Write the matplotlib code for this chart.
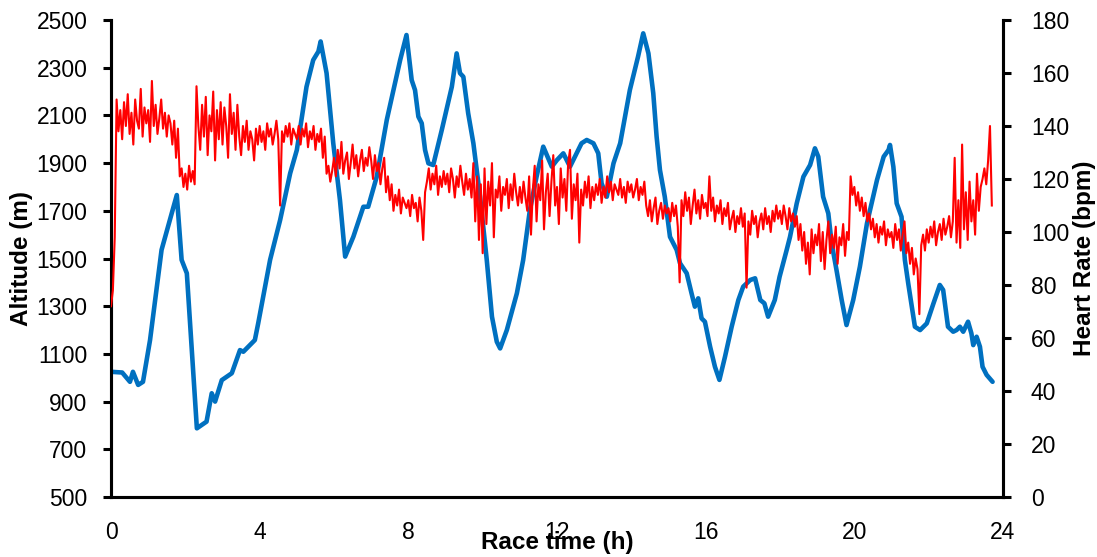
import numpy as np
import matplotlib
matplotlib.use("Agg")
import matplotlib.pyplot as plt

plt.rcParams['font.family'] = ['Liberation Sans', 'DejaVu Sans']

# Altitude profile (h, m)
alt_time = [0.00, 0.30, 0.51, 0.59, 0.73, 0.86, 1.05, 1.36, 1.77, 1.90, 2.04, 2.31, 2.57, 2.71,
            2.80, 2.98, 3.25, 3.47, 3.56, 3.87, 3.96, 4.28, 4.55, 4.82, 5.00, 5.26, 5.44, 5.58,
            5.64, 5.80, 5.98, 6.16, 6.30, 6.52, 6.79, 6.92, 7.15, 7.42, 7.78, 7.95, 8.09, 8.18,
            8.27, 8.36, 8.45, 8.54, 8.67, 8.90, 9.17, 9.30, 9.39, 9.48, 9.61, 9.75, 9.93, 10.11,
            10.25, 10.38, 10.47, 10.65, 10.92, 11.09, 11.27, 11.45, 11.63, 11.86, 12.00, 12.17,
            12.35, 12.57, 12.66, 12.80, 12.98, 13.11, 13.20, 13.34, 13.52, 13.70, 13.96, 14.18,
            14.32, 14.46, 14.59, 14.68, 14.77, 14.90, 15.04, 15.22, 15.31, 15.49, 15.62, 15.71,
            15.80, 15.89, 15.98, 16.12, 16.25, 16.37, 16.52, 16.70, 16.88, 17.01, 17.20, 17.33,
            17.47, 17.58, 17.68, 17.86, 17.99, 18.18, 18.27, 18.45, 18.63, 18.81, 18.94, 19.03,
            19.16, 19.30, 19.39, 19.52, 19.66, 19.79, 19.97, 20.15, 20.34, 20.61, 20.79, 20.92,
            20.96, 21.05, 21.14, 21.27, 21.36, 21.45, 21.63, 21.77, 21.95, 22.13, 22.30, 22.39,
            22.52, 22.66, 22.75, 22.84, 22.93, 23.06, 23.15, 23.20, 23.29, 23.38, 23.45, 23.56,
            23.72]
alt_m = [1025, 1022, 983, 1025, 970, 983, 1158, 1536, 1766, 1494, 1438, 788, 816, 935,
         900, 990, 1019, 1116, 1109, 1158, 1228, 1494, 1661, 1857, 1955, 2220, 2332, 2368,
         2410, 2277, 1983, 1745, 1508, 1591, 1717, 1717, 1843, 2081, 2332, 2437, 2248, 2206,
         2095, 2067, 1955, 1899, 1892, 2039, 2220, 2360, 2277, 2262, 2109, 1983, 1759, 1494,
         1256, 1151, 1123, 1200, 1354, 1494, 1703, 1843, 1969, 1885, 1913, 1941,
         1885, 1955, 1983, 1997, 1983, 1941, 1815, 1759, 1899, 1983, 2206, 2346,
         2444, 2360, 2193, 2011, 1871, 1759, 1591, 1536, 1480, 1438, 1354, 1298,
         1333, 1249, 1235, 1130, 1046, 991, 1088, 1214, 1326, 1382, 1410, 1417,
         1326, 1312, 1256, 1326, 1424, 1536, 1591, 1731, 1843, 1892, 1962, 1927,
         1759, 1689, 1564, 1452, 1326, 1221, 1326, 1466, 1647, 1829, 1927, 1955,
         1976, 1885, 1731, 1675, 1494, 1396, 1214, 1200, 1228, 1312, 1389, 1368,
         1214, 1193, 1200, 1214, 1193, 1235, 1186, 1137, 1172, 1130, 1046, 1012,
         983]

# Heart rate, one reading every 0.05 h (bpm)
hr_step = 0.05
hr_rows = [
    [72, 78, 98, 150, 138, 146, 135, 149, 140, 152, 137, 145, 133, 150, 142, 139, 154, 136, 147, 141],
    [146, 134, 157, 140, 148, 137, 143, 150, 139, 145, 136, 144, 141, 133, 142, 128, 139, 121, 124, 117],
    [122, 116, 125, 119, 123, 118, 155, 140, 131, 148, 136, 151, 129, 144, 138, 153, 127, 146, 135, 149],
    [133, 147, 140, 128, 152, 137, 145, 131, 148, 136, 129, 140, 134, 142, 131, 138, 135, 127, 139, 133],
    [140, 134, 138, 131, 141, 136, 139, 133, 137, 142, 135, 110, 138, 134, 140, 136, 141, 133, 139, 137],
    [135, 140, 133, 139, 136, 141, 132, 138, 135, 140, 131, 137, 134, 139, 128, 136, 122, 125, 119, 123],
    [128, 121, 131, 124, 134, 122, 127, 130, 120, 126, 133, 124, 129, 121, 127, 131, 123, 128, 125, 132],
    [127, 120, 129, 123, 126, 118, 124, 128, 115, 121, 112, 118, 108, 114, 110, 116, 107, 113, 111, 109],
    [112, 106, 114, 109, 111, 104, 113, 108, 97, 115, 119, 124, 116, 122, 118, 125, 114, 121, 117, 123],
    [118, 122, 115, 124, 120, 113, 121, 117, 125, 119, 114, 122, 116, 120, 113, 126, 104, 121, 97, 118],
    [92, 124, 103, 119, 110, 126, 98, 116, 113, 121, 108, 117, 114, 120, 109, 118, 112, 122, 115, 110],
    [117, 111, 119, 113, 108, 121, 99, 116, 125, 104, 118, 112, 127, 101, 115, 122, 106, 119, 129, 110],
    [117, 103, 124, 113, 120, 108, 126, 131, 105, 118, 112, 122, 96, 116, 110, 119, 113, 121, 109, 117],
    [112, 118, 114, 120, 111, 117, 113, 121, 115, 119, 112, 118, 116, 114, 120, 113, 117, 111, 119, 115],
    [118, 113, 116, 120, 112, 117, 114, 119, 110, 106, 112, 104, 109, 113, 103, 108, 111, 105, 110, 107],
    [109, 104, 111, 106, 110, 102, 81, 112, 106, 115, 108, 113, 103, 110, 116, 107, 112, 105, 114, 109],
    [111, 106, 121, 108, 113, 104, 110, 107, 112, 103, 109, 106, 111, 101, 105, 108, 100, 106, 103, 109],
    [102, 107, 79, 104, 99, 108, 103, 106, 98, 104, 107, 101, 109, 103, 106, 100, 108, 104, 110, 105],
    [108, 103, 110, 106, 101, 109, 104, 107, 102, 106, 97, 103, 93, 100, 88, 96, 84, 101, 92, 99],
    [95, 103, 89, 100, 86, 97, 104, 92, 99, 94, 102, 88, 98, 95, 103, 91, 100, 97, 121, 114],
    [117, 110, 115, 108, 113, 106, 111, 104, 107, 101, 105, 98, 103, 96, 102, 99, 104, 95, 101, 98],
    [100, 94, 103, 97, 101, 93, 99, 104, 92, 96, 88, 94, 84, 90, 86, 69, 95, 99, 93, 101],
    [96, 102, 98, 104, 95, 100, 103, 97, 105, 99, 102, 106, 98, 104, 128, 96, 112, 94, 133, 101],
    [115, 97, 119, 104, 112, 99, 122, 108, 117, 120, 124, 118, 127, 140, 110],
]
hr_bpm = [v for row in hr_rows for v in row]
hr_time = np.arange(len(hr_bpm)) * hr_step

x_ticks = [0, 4, 8, 12, 16, 20, 24]
alt_ticks = list(range(500, 2501, 200))
hr_ticks = list(range(0, 181, 20))

fig = plt.figure(figsize=(10.97, 5.57), dpi=100)
ax = fig.add_axes([0.1012, 0.1077, 0.8131, 0.8564])
ax2 = ax.twinx()

ax.plot(alt_time, alt_m, color='#0070C0', lw=3.3, solid_joinstyle='round',
        solid_capstyle='round', zorder=2)
ax2.plot(hr_time, hr_bpm, color='#FF0000', lw=1.5, zorder=3)

ax.set_xlim(0, 24)
ax.set_ylim(500, 2500)
ax2.set_ylim(0, 180)
ax.set_xticks(x_ticks)
ax.set_yticks(alt_ticks)
ax2.set_yticks(hr_ticks)

for a in (ax, ax2):
    a.spines['top'].set_visible(False)
    for s in ('left', 'right', 'bottom'):
        a.spines[s].set_linewidth(2.2)
        a.spines[s].set_color('black')

tick_fs = 16.5
ax.tick_params(axis='y', direction='out', length=6, width=2.2, labelsize=tick_fs, pad=11)
ax2.tick_params(axis='y', direction='out', length=6, width=2.2, labelsize=tick_fs, pad=14)
ax.tick_params(axis='x', length=0, labelsize=tick_fs, pad=17)

lab_fs = 17.5
ax.set_ylabel('Altitude (m)', fontsize=lab_fs, fontweight='bold')
ax2.set_ylabel('Heart Rate (bpm)', fontsize=lab_fs, fontweight='bold')
ax.set_xlabel('Race time (h)', fontsize=lab_fs, fontweight='bold')
ax.yaxis.set_label_coords(-0.0874, 0.5)
ax2.yaxis.set_label_coords(1.0785, 0.5)
ax.xaxis.set_label_coords(0.5, -0.072)

fig.savefig('out.png', dpi=100)
